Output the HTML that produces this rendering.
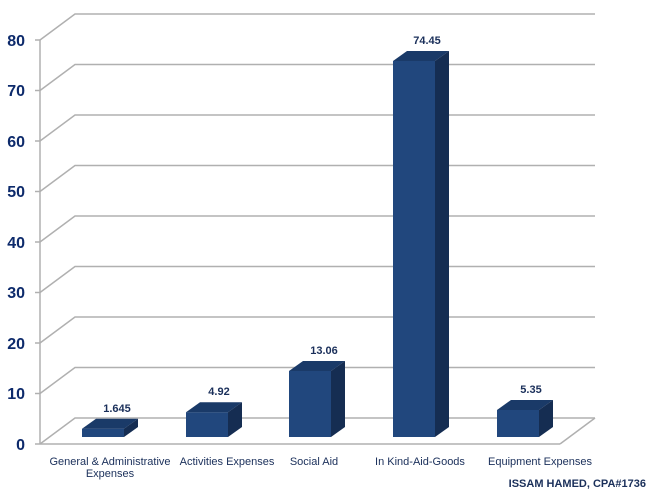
<!DOCTYPE html>
<html><head><style>body{margin:0;background:#fff}svg{display:block}</style></head><body>
<svg width="657" height="491" xmlns="http://www.w3.org/2000/svg" font-family="Liberation Sans, sans-serif">
<g stroke="#b0b0b0" stroke-width="1.5" fill="none">
<polyline points="40,444 75,418 595,418"/>
<polyline points="40,393.5 75,367.5 595,367.5"/>
<polyline points="40,343 75,317 595,317"/>
<polyline points="40,292.5 75,266.5 595,266.5"/>
<polyline points="40,242 75,216 595,216"/>
<polyline points="40,191.5 75,165.5 595,165.5"/>
<polyline points="40,141 75,115 595,115"/>
<polyline points="40,90.5 75,64.5 595,64.5"/>
<polyline points="40,40 75,14 595,14"/>
<line x1="40" y1="40" x2="40" y2="444"/>
<line x1="40" y1="444" x2="560" y2="444"/>
<line x1="560" y1="444" x2="595" y2="418"/>
</g>
<g stroke="#b0b0b0" stroke-width="1.5">
<line x1="35" y1="444" x2="40" y2="444"/><line x1="35" y1="393.5" x2="40" y2="393.5"/><line x1="35" y1="343" x2="40" y2="343"/><line x1="35" y1="292.5" x2="40" y2="292.5"/><line x1="35" y1="242" x2="40" y2="242"/><line x1="35" y1="191.5" x2="40" y2="191.5"/><line x1="35" y1="141" x2="40" y2="141"/><line x1="35" y1="90.5" x2="40" y2="90.5"/><line x1="35" y1="40" x2="40" y2="40"/>
</g>
<g font-size="16" font-weight="bold" fill="#0d2a6b" text-anchor="end">
<text x="25" y="450">0</text><text x="25" y="399">10</text><text x="25" y="349">20</text><text x="25" y="298">30</text><text x="25" y="248">40</text><text x="25" y="197">50</text><text x="25" y="147">60</text><text x="25" y="96">70</text><text x="25" y="46">80</text>
</g>
<g>
<rect x="82" y="428.7" width="42" height="8.3" fill="#21477d"/>
<polygon points="82,428.7 96,418.7 138,418.7 124,428.7" fill="#1a3a68"/>
<polygon points="124,428.7 138,418.7 138,427 124,437" fill="#152d52"/>

<rect x="186" y="412.2" width="42" height="24.8" fill="#21477d"/>
<polygon points="186,412.2 200,402.2 242,402.2 228,412.2" fill="#1a3a68"/>
<polygon points="228,412.2 242,402.2 242,427 228,437" fill="#152d52"/>

<rect x="289" y="371" width="42" height="66" fill="#21477d"/>
<polygon points="289,371 303,361 345,361 331,371" fill="#1a3a68"/>
<polygon points="331,371 345,361 345,427 331,437" fill="#152d52"/>

<rect x="393" y="61" width="42" height="376" fill="#21477d"/>
<polygon points="393,61 407,51 449,51 435,61" fill="#1a3a68"/>
<polygon points="435,61 449,51 449,427 435,437" fill="#152d52"/>

<rect x="497" y="410" width="42" height="27" fill="#21477d"/>
<polygon points="497,410 511,400 553,400 539,410" fill="#1a3a68"/>
<polygon points="539,410 553,400 553,427 539,437" fill="#152d52"/>
</g>
<g font-size="11" font-weight="bold" fill="#1a2f5a" text-anchor="middle">
<text x="117" y="412">1.645</text>
<text x="219" y="395">4.92</text>
<text x="324" y="354">13.06</text>
<text x="427" y="44">74.45</text>
<text x="531" y="393">5.35</text>
</g>
<g font-size="11" fill="#1a2f5a" text-anchor="middle">
<text x="110" y="465">General &amp; Administrative</text><text x="110" y="477">Expenses</text>
<text x="227" y="465">Activities Expenses</text>
<text x="314" y="465">Social Aid</text>
<text x="420" y="465">In Kind-Aid-Goods</text>
<text x="540" y="465">Equipment  Expenses</text>
</g>
<text x="646" y="487" font-size="11" font-weight="bold" fill="#1a2f5a" text-anchor="end">ISSAM HAMED,  CPA#1736</text>
</svg>
</body></html>
